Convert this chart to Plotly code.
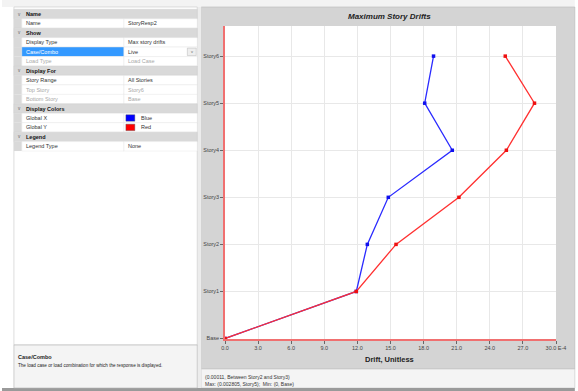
import plotly.graph_objects as go

# ---------------- data ----------------
stories = ["Base", "Story1", "Story2", "Story3", "Story4", "Story5", "Story6"]
drift_global_x = [0.0, 11.9, 12.9, 14.8, 20.6, 18.1, 18.9]   # x 1E-4
drift_global_y = [0.0, 11.9, 15.5, 21.2, 25.5, 28.05, 25.4]  # x 1E-4
x_tick_vals = [0, 3, 6, 9, 12, 15, 18, 21, 24, 27, 30]
x_tick_text = ["0.0", "3.0", "6.0", "9.0", "12.0", "15.0", "18.0", "21.0", "24.0", "27.0", "30.0 E-4"]

prop_kinds = ["h", "p", "h", "p", "sel", "dis", "h", "p", "dis", "dis", "h", "p", "p", "h", "p"]
prop_labels = ["Name", "Name", "Show", "Display Type", "Case/Combo", "Load Type", "Display For",
               "Story Range", "Top Story", "Bottom Story", "Display Colors", "Global X", "Global Y",
               "Legend", "Legend Type"]
prop_values = ["", "StoryResp2", "", "Max story drifts", "Live", "Load Case", "", "All Stories",
               "Story6", "Base", "", "Blue", "Red", "", "None"]
prop_swatch = [None] * 11 + ["#0000ff", "#ff0000", None, None]

status_lines = ["(0.00011, Between Story2 and Story3)",
                "Max: (0.002805, Story5);  Min: (0, Base)"]

# ---------------- geometry helpers ----------------
W, H = 578, 391
L, R, T, B = 225, 559, 26, 339


def X(px):
    return (px - L) / (R - L)


def Y(py):
    return (B - py) / (B - T)


shapes = []
annotations = []


def rect(x0, y0, x1, y1, fill, line=None, lw=0.6):
    shapes.append(dict(type="rect", xref="paper", yref="paper", layer="below",
                       x0=X(x0), x1=X(x1), y0=Y(y1), y1=Y(y0), fillcolor=fill,
                       line=dict(color=line or fill, width=lw if line else 0)))


def text(x, y, s, size=5.5, color="#222222", anchor="left", bold=False, italic=False,
         family="Liberation Sans, Arial, sans-serif"):
    if bold:
        s = "<b>" + s + "</b>"
    if italic:
        s = "<i>" + s + "</i>"
    annotations.append(dict(xref="paper", yref="paper", x=X(x), y=Y(y), text=s,
                            showarrow=False, xanchor=anchor, yanchor="middle",
                            font=dict(size=size, color=color, family=family)))


# ---------------- background panels ----------------
rect(0, 0, W, 7, "#f3f3f3")
# right chart panel
rect(201, 7, W, 369, "#d4d4d4", "#b8b8b8")
rect(L, T, R, B, "#ffffff")
# status bar
rect(201, 369, W, 388, "#f4f4f4", "#c8c8c8")
rect(0, 388, W, H, "#9a9a9a")
# separator between panels
rect(197, 7, 201, 388, "#ececec")
# left panel border
rect(12, 7, 197, 345, "#ffffff", "#c8c8c8")
# description box
rect(12, 345, 197, 388, "#f4f4f4", "#b4b4b4")
text(14, 357, "Case/Combo", size=5.5, bold=True)
text(14, 366, "The load case or load combination for which the response is displayed.", size=4.6)

# ---------------- property grid ----------------
row_top, row_h = 9.3, 9.45
for i, kind in enumerate(prop_kinds):
    y0 = row_top + i * row_h
    y1 = y0 + row_h
    yc = (y0 + y1) / 2
    if kind == "h":
        rect(12, y0, 197, y1, "#d9d9d9", "#d0d0d0", 0.4)
        text(14.5, yc, "v", size=4.5, color="#666666")
        text(22, yc, prop_labels[i], size=5.5, bold=True, color="#111111")
        continue
    rect(12, y0, 20, y1, "#d9d9d9")
    rect(20, y0, 123, y1, "#3399ff" if kind == "sel" else "#ffffff", "#e2e2e2", 0.4)
    rect(123, y0, 197, y1, "#ffffff", "#e2e2e2", 0.4)
    lab_col = "#ffffff" if kind == "sel" else ("#a8a8a8" if kind == "dis" else "#333333")
    val_col = "#a8a8a8" if kind == "dis" else "#333333"
    text(22, yc, prop_labels[i], size=5.5, color=lab_col)
    vx = 125
    if prop_swatch[i]:
        rect(125, y0 + 1.5, 134, y1 - 1.5, prop_swatch[i], "#555555", 0.4)
        vx = 138
    text(vx, yc, prop_values[i], size=5.5, color=val_col)
    if kind == "sel":
        rect(187, y0 + 1, 196, y1 - 1, "#eeeeee", "#aaaaaa", 0.4)
        text(191.5, yc, "v", size=4, color="#666666", anchor="center")

# ---------------- chart texts ----------------
text(391, 16, "Maximum Story Drifts", size=8, color="#222222", anchor="center", bold=True, italic=True)
text(391, 359, "Drift, Unitless", size=7.5, color="#222222", anchor="center", bold=True)
text(203, 376.5, status_lines[0], size=5, color="#333333")
text(203, 383.5, status_lines[1], size=5, color="#333333")

# ---------------- traces ----------------
fig = go.Figure()
fig.add_trace(go.Scatter(x=drift_global_x, y=stories, mode="lines+markers", name="Global X",
                         line=dict(color="#2a2aff", width=1.3),
                         marker=dict(color="#1010ee", size=3.5, symbol="square")))
fig.add_trace(go.Scatter(x=drift_global_y, y=stories, mode="lines+markers", name="Global Y",
                         line=dict(color="#ff3030", width=1.3),
                         marker=dict(color="#ee1010", size=3.5, symbol="square")))

fig.update_layout(
    width=W, height=H,
    margin=dict(l=L, r=W - R, t=T, b=H - B, pad=0),
    paper_bgcolor="#ffffff", plot_bgcolor="#ffffff",
    showlegend=False, hovermode=False,
    shapes=shapes, annotations=annotations,
    font=dict(family="Liberation Sans, Arial, sans-serif", size=5.5, color="#333333"),
    xaxis=dict(range=[0, 30], tickvals=x_tick_vals, ticktext=x_tick_text,
               showgrid=True, gridcolor="#e8e8e8", gridwidth=1, zeroline=False,
               showline=True, linecolor="#f07070", linewidth=1.5,
               ticks="outside", ticklen=3, tickcolor="#666666",
               tickfont=dict(size=5.5, color="#444444")),
    yaxis=dict(type="category", categoryorder="array", categoryarray=stories,
               range=[-0.01, 6.64], showgrid=True, gridcolor="#e8e8e8", gridwidth=1,
               zeroline=False, showline=True, linecolor="#f07070", linewidth=1.5,
               ticks="outside", ticklen=3, tickcolor="#666666",
               tickfont=dict(size=5.5, color="#444444")),
)

fig.write_html("out.html", config={"displayModeBar": False},
               post_script="document.body.style.margin='0';document.body.style.overflow='hidden';")
